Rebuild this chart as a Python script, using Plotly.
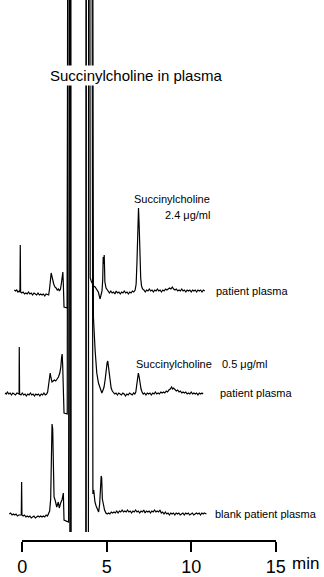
import plotly.graph_objects as go

# ---------------- data (retention time in min, detector signal in arbitrary units) ----------------
top_time = [-0.47, -0.40, -0.33, -0.26, -0.19, -0.14, -0.12, -0.10, -0.03, 0.05, 0.13, 0.21, 0.29, 0.37,
            0.45, 0.53, 0.61, 0.69, 0.77, 0.85, 0.93, 1.01, 1.09, 1.17, 1.25, 1.33, 1.41, 1.49, 1.56,
            1.62, 1.67, 1.71, 1.75, 1.80, 1.86, 1.93, 2.00, 2.07, 2.14, 2.20, 2.26, 2.31, 2.36, 2.40,
            2.43, 2.47, 2.66,
            2.71, 2.79, 2.83, 3.76, 3.79, 3.98, 4.02,
            4.08, 4.13, 4.22, 4.31, 4.38, 4.43, 4.50, 4.56, 4.61, 4.66, 4.72, 4.76, 4.79, 4.82, 4.85,
            4.89, 4.96, 5.02, 5.08,
            5.16, 5.24, 5.32, 5.40, 5.48, 5.56, 5.64, 5.72, 5.80, 5.88, 5.96, 6.04, 6.12, 6.20, 6.28,
            6.36, 6.44, 6.52, 6.60, 6.68,
            6.74, 6.79, 6.84, 6.88, 6.92, 6.96, 7.01, 7.06, 7.12, 7.20,
            7.28, 7.36, 7.44, 7.52, 7.60, 7.68, 7.76, 7.84, 7.92, 8.00, 8.08, 8.16, 8.24, 8.32, 8.40,
            8.48, 8.56, 8.64, 8.72, 8.80, 8.88, 8.96, 9.04, 9.12, 9.20, 9.28, 9.36, 9.44, 9.52, 9.60,
            9.68, 9.76, 9.84, 9.92, 10.00, 10.08, 10.16, 10.24, 10.32, 10.40, 10.48, 10.56, 10.64,
            10.72, 10.80]
top_signal = [2, 1, 2, 0, 1, 0, 47, 0, -1, 0, -2, -1, -2, 0,
              -2, -1, -3, -1, -2, -3, -1, -3, -2, -3, -2, -4, -2, -3, -3,
              4, 14, 19, 16, 10, 8, 5, 4, 2, 3, 1, 3, 8, 16, 20,
              8, -15, -16,
              700, 700, -700, -700, 700, 700, 14,
              11, 9, 6, 5, 3, 2, 0, -4, -7, -3, 1, 12, 35, 28, 37,
              10, 4, 2, 1,
              -1, 1, -1, 0, -2, 1, -1, 0, -2, 0, -1, 1, -1, 0, -2,
              0, -1, 1, 0, 2,
              8, 30, 70, 84, 66, 35, 14, 6, 3, 2,
              0, 2, 1, 3, 1, 2, 0, 2, 1, 3, 1, 2, 0, 2, 1,
              3, 2, 3, 4, 3, 5, 3, 2, 3, 1, 2, 1, 3, 1, 2,
              0, 2, 1, 2, 0, 2, 1, 2, 0, 2, 1, 2, 0,
              2, 1]

mid_time = [-1.02, -0.95, -0.88, -0.80, -0.72, -0.64, -0.56, -0.48, -0.40, -0.32, -0.24, -0.19, -0.18,
            -0.16, -0.08, 0.00, 0.08, 0.16, 0.24, 0.32, 0.40, 0.48, 0.56, 0.64, 0.72, 0.80, 0.88,
            0.96, 1.04, 1.12, 1.20, 1.28, 1.36, 1.44, 1.50,
            1.55, 1.60, 1.65, 1.70, 1.76, 1.83, 1.90, 1.98, 2.06, 2.14, 2.22, 2.28, 2.33, 2.36, 2.39,
            2.43, 2.47, 2.66,
            2.71, 2.86, 2.89, 3.76, 3.79, 4.15, 4.18,
            4.21, 4.31, 4.41, 4.51, 4.61, 4.71, 4.78, 4.84, 4.91, 4.96, 5.02, 5.06, 5.10, 5.14, 5.20,
            5.26, 5.33, 5.39,
            5.47, 5.55, 5.63, 5.71, 5.79, 5.87, 5.95, 6.03, 6.11, 6.19, 6.27, 6.35, 6.43, 6.51, 6.59,
            6.66,
            6.72, 6.77, 6.82, 6.87, 6.92, 6.97, 7.03, 7.09,
            7.16, 7.24, 7.32, 7.40, 7.48, 7.56, 7.64, 7.72, 7.80, 7.88, 7.96, 8.04, 8.12, 8.20, 8.28,
            8.36, 8.44, 8.52, 8.60, 8.68, 8.76, 8.84, 8.90, 8.96, 9.04, 9.12, 9.20, 9.28, 9.36, 9.44,
            9.52, 9.60, 9.68, 9.76, 9.84, 9.92, 10.00, 10.08, 10.16, 10.24, 10.32, 10.40, 10.48,
            10.56, 10.64, 10.70]
mid_signal = [0, -1, 1, -1, 0, -2, 0, -1, -2, 0, -1, -1, 46,
              -1, -2, 0, -2, -1, -3, -1, -2, 0, -2, -1, -3, -1, -2,
              -1, -3, -1, -2, 0, -2, -1, 1,
              6, 15, 20, 15, 11, 12, 13, 12, 14, 16, 20, 26, 36, 39, 28,
              -8, -20, -21,
              700, 700, -700, -700, 700, 700, 90,
              76, 43, 20, 10, 5, 0, 3, 6, 14, 23, 30, 32, 27, 20, 10,
              5, 2, 1,
              -1, 0, -2, 0, -1, -2, 0, -1, -3, -1, -2, 0, -1, -2, 0,
              -1,
              1, 7, 15, 20, 16, 9, 4, 1,
              -1, 0, -2, 0, -1, 0, -2, 0, -1, 1, -1, 0, -1, 1, 0,
              1, 0, 2, 1, 3, 4, 6, 4, 5, 3, 2, 3, 1, 2, 0,
              1, 0, 1, -1, 0, -1, 1, -1, 0, -1, 0, -2, 0,
              -1, 0, -1]

blank_time = [-0.77, -0.69, -0.61, -0.53, -0.45, -0.37, -0.29, -0.21, -0.13, -0.06, -0.04, -0.02,
              0.05, 0.13, 0.21, 0.29, 0.37, 0.45, 0.53, 0.61, 0.69, 0.77, 0.85, 0.93, 1.01, 1.09,
              1.17, 1.25, 1.33, 1.41, 1.49, 1.56,
              1.62, 1.68, 1.72, 1.76, 1.80, 1.84, 1.88, 1.94, 2.04, 2.13, 2.19, 2.27, 2.35, 2.43,
              2.47, 2.74,
              2.79, 2.86, 2.89, 3.90, 3.93, 4.12, 4.15,
              4.18, 4.23, 4.30, 4.37, 4.44, 4.52, 4.58, 4.63, 4.67, 4.70, 4.74, 4.80, 4.87, 4.95, 5.03,
              5.11, 5.19, 5.27, 5.35, 5.43, 5.51, 5.59, 5.67, 5.75, 5.83, 5.91, 5.99, 6.07, 6.15, 6.23,
              6.31, 6.39, 6.47, 6.55, 6.63, 6.71, 6.79, 6.87, 6.95, 7.03, 7.11, 7.19, 7.27, 7.35, 7.43,
              7.51, 7.59, 7.67, 7.75, 7.83, 7.91, 7.99, 8.07, 8.15, 8.23, 8.31, 8.39, 8.47, 8.55, 8.63,
              8.71, 8.79, 8.87, 8.95, 9.03, 9.11, 9.19, 9.27, 9.35, 9.43, 9.51, 9.59, 9.67, 9.75, 9.83,
              9.91, 9.99, 10.07, 10.15, 10.23, 10.31, 10.39, 10.47, 10.55, 10.63, 10.71, 10.77, 10.90]
blank_signal = [0, 1, -1, 0, -1, 0, -2, -1, -1, -1, 32, -1,
                -2, -1, -3, -2, -3, -2, -4, -3, -2, -4, -3, -2, -3, -2,
                -3, -2, -3, -1, -2, 0,
                3, 15, 55, 90, 85, 40, 17, 14, 7, 12, 6, 11, 14, 21,
                -6, -8,
                700, 700, -700, -700, 700, 700, 30,
                20, 24, 12, 8, 4, 2, 10, 25, 38, 36, 15, 8, 4, 1, 0,
                1, 0, 2, 1, 2, 1, 3, 1, 3, 2, 4, 2, 3, 2, 4,
                2, 3, 1, 3, 2, 4, 2, 3, 1, 3, 2, 4, 1, 3, 2,
                3, 1, 3, 2, 4, 2, 3, 2, 4, 1, 2, 0, 2, 0, 1,
                -1, 1, 0, 1, -1, 1, 0, 1, -1, 0, 1, -1, 1, 0, 1,
                -1, 0, 1, -1, 0, 1, 0, 1, -1, 1, 0, 1, 0]

trace_names = ["patient plasma", "patient plasma", "blank patient plasma"]
tick_values = [0, 5, 10, 15]
tick_labels = ["0", "5", "10", "15"]

# vertical stacking of the three chromatograms (layout)
stack_offsets = [285, 184, 63]

FONT = "Liberation Sans, Arial, Helvetica, sans-serif"

fig = go.Figure()
for t, s, off in zip([top_time, mid_time, blank_time],
                     [top_signal, mid_signal, blank_signal], stack_offsets):
    fig.add_trace(go.Scatter(x=t, y=[v + off for v in s], mode="lines",
                             line=dict(color="black", width=1.2),
                             hoverinfo="skip", showlegend=False))

# invisible helper trace so the time axis subplot is drawn
fig.add_trace(go.Scatter(x=tick_values, y=[0.5] * len(tick_values), xaxis="x2", yaxis="y2",
                         mode="markers", marker=dict(opacity=0), hoverinfo="skip",
                         showlegend=False))


def tx(px):
    return (px - 22.3) / 16.89


def ty(py):
    return 577 - py


annotations = [
    dict(x=tx(135.5), y=ty(75), text="Succinylcholine in plasma", showarrow=False,
         font=dict(size=15, color="black", family=FONT), bgcolor="white", borderpad=1,
         xanchor="center", yanchor="middle"),
    dict(x=tx(212), y=ty(199), text="Succinylcholine", showarrow=False,
         font=dict(size=11, color="black", family=FONT), xanchor="right", yanchor="middle"),
    dict(x=tx(212), y=ty(215), text="2.4 μg/ml", showarrow=False,
         font=dict(size=11, color="black", family=FONT), xanchor="right", yanchor="middle"),
    dict(x=tx(134), y=ty(364), text="Succinylcholine", showarrow=False,
         font=dict(size=11, color="black", family=FONT), xanchor="left", yanchor="middle"),
    dict(x=tx(220), y=ty(364), text="0.5 μg/ml", showarrow=False,
         font=dict(size=11, color="black", family=FONT), xanchor="left", yanchor="middle"),
    dict(x=tx(214), y=ty(291), text=trace_names[0], showarrow=False,
         font=dict(size=11, color="black", family=FONT), xanchor="left", yanchor="middle"),
    dict(x=tx(218), y=ty(393), text=trace_names[1], showarrow=False,
         font=dict(size=11, color="black", family=FONT), xanchor="left", yanchor="middle"),
    dict(x=tx(213), y=ty(514), text=trace_names[2], showarrow=False,
         font=dict(size=11, color="black", family=FONT), xanchor="left", yanchor="middle"),
    dict(xref="paper", yref="paper", x=290 / 324, y=(577 - 563) / 577, text="min",
         showarrow=False, font=dict(size=17, color="black", family=FONT),
         xanchor="left", yanchor="middle"),
]

fig.update_layout(
    template="none",
    width=324, height=577,
    margin=dict(l=0, r=0, t=0, b=0, pad=0, autoexpand=False),
    paper_bgcolor="white", plot_bgcolor="white",
    showlegend=False,
    xaxis=dict(domain=[0, 1], range=[tx(0), tx(324)], visible=False, fixedrange=True,
               automargin=False),
    yaxis=dict(domain=[(577 - 532) / 577, 1], range=[45, 577], visible=False, fixedrange=True,
               automargin=False),
    xaxis2=dict(domain=[22.3 / 324, 275.7 / 324], range=[0, 15], anchor="y2",
                showline=True, linecolor="black", linewidth=1.5,
                ticks="outside", ticklen=10, tickwidth=1.5, tickcolor="black",
                tickvals=tick_values, ticktext=tick_labels, showgrid=False, zeroline=False,
                tickfont=dict(size=18, color="black", family=FONT), fixedrange=True,
                automargin=False),
    yaxis2=dict(domain=[(577 - 540) / 577, (577 - 536) / 577], anchor="x2", visible=False,
                range=[0, 1], fixedrange=True, automargin=False),
    annotations=annotations,
)

fig.write_html("out.html", config={"displayModeBar": False},
               post_script="document.body.style.margin='0px';")
